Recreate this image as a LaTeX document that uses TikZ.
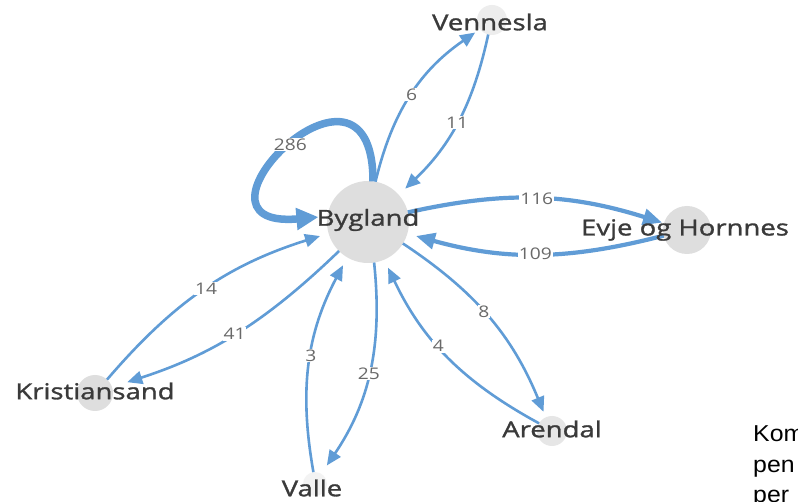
\documentclass[tikz,border=0pt]{standalone}
\usepackage{fontspec}
\setmainfont{Open Sans}
\newfontfamily\lblfont[FakeStretch=1.25,FakeBold=1.3]{Open Sans}
\newfontfamily\numfont[FakeStretch=1.2]{Open Sans}
\newfontfamily\sidefont[FakeStretch=1.08]{Liberation Sans}
\usetikzlibrary{arrows.meta}
\definecolor{edgeblue}{RGB}{96,156,214}
\definecolor{nodegrey}{RGB}{222,222,222}
\definecolor{lbltext}{RGB}{58,58,58}
\definecolor{numtext}{RGB}{105,105,105}
\begin{document}
\begin{tikzpicture}[x=1pt,y=1pt,
  gdot/.style={circle,fill=nodegrey,draw=none,inner sep=0pt,outer sep=0pt},
  nlabel/.style={font=\lblfont\fontsize{22}{26}\selectfont,text=lbltext,inner sep=0pt},
  link/.style={draw=edgeblue,line width=2.6pt,-{Triangle[length=15pt,width=13pt]}},
  heavylink/.style={draw=edgeblue,line width=4.2pt,-{Triangle[length=19pt,width=16pt]}},
  looplink/.style={draw=edgeblue,line width=7.5pt,-{Triangle[length=22pt,width=21pt]}},
  gap/.style={shorten >=#1},
  elbl/.style={fill=white,inner sep=0.8pt,font=\numfont\fontsize{16}{18}\selectfont,text=numtext},
  sidetext/.style={anchor=base west,inner sep=0pt,font=\sidefont\fontsize{23}{30}\selectfont,text=black},
]
\clip (0,0) rectangle (798,-502);
\fill[white] (0,0) rectangle (798,-502);

% node circles
\node[gdot,minimum size=82pt] (byg) at (368,-222) {};
\node[gdot,minimum size=30pt,fill=nodegrey!55] (ven) at (492,-20) {};
\node[gdot,minimum size=48pt] (evj) at (687,-230) {};
\node[gdot,minimum size=30pt,fill=nodegrey!75] (are) at (552,-431) {};
\node[gdot,minimum size=36pt] (kri) at (95,-393) {};
\node[gdot,minimum size=24pt,fill=nodegrey!35] (val) at (315,-484) {};

% edges
\draw[looplink,gap=9pt] (byg.83) to[out=90,in=185,out distance=158pt,in distance=160pt] node[elbl]{286} (byg.172);
\draw[link,gap=6pt] (byg) to[bend left=21] node[elbl]{6} (ven);
\draw[link,gap=9pt] (ven) to[bend left=17] node[elbl]{11} (byg);
\draw[heavylink,gap=2pt] (byg) to[bend left=15] node[elbl]{116} (evj);
\draw[heavylink,gap=9pt] (evj) to[bend left=15] node[elbl]{109} (byg);
\draw[link,gap=6pt] (byg) to[bend left=17] node[elbl,pos=0.46]{8} (are);
\draw[link,gap=9pt] (are) to[bend left=18] node[elbl,pos=0.56]{4} (byg);
\draw[link,gap=10pt] (byg) to[bend left=20] node[elbl]{25} (val);
\draw[link,gap=9pt] (val) to[bend left=19] node[elbl,pos=0.53]{3} (byg);
\draw[link,gap=9pt] (kri) to[bend left=16] node[elbl]{14} (byg);
\draw[link,gap=16pt] (byg) to[bend left=13] node[elbl]{41} (kri);

% labels
\node[nlabel] (bygT) at (368,-220) {Bygland};
\node[nlabel] (venT) at (490,-22) {Vennesla};
\node[nlabel] (evjT) at (685,-230) {Evje og Hornnes};
\node[nlabel] (areT) at (552,-429) {Arendal};
\node[nlabel] (kriT) at (95,-391) {Kristiansand};
\node[nlabel] (valT) at (312,-488) {Valle};

% side text (cut by the picture edge, as in the reference)
\node[sidetext] (kom) at (753,-442) {Kom};
\node[sidetext] (pen) at (753,-472) {pen};
\node[sidetext] (per) at (753,-502) {per};
\end{tikzpicture}
\end{document}
